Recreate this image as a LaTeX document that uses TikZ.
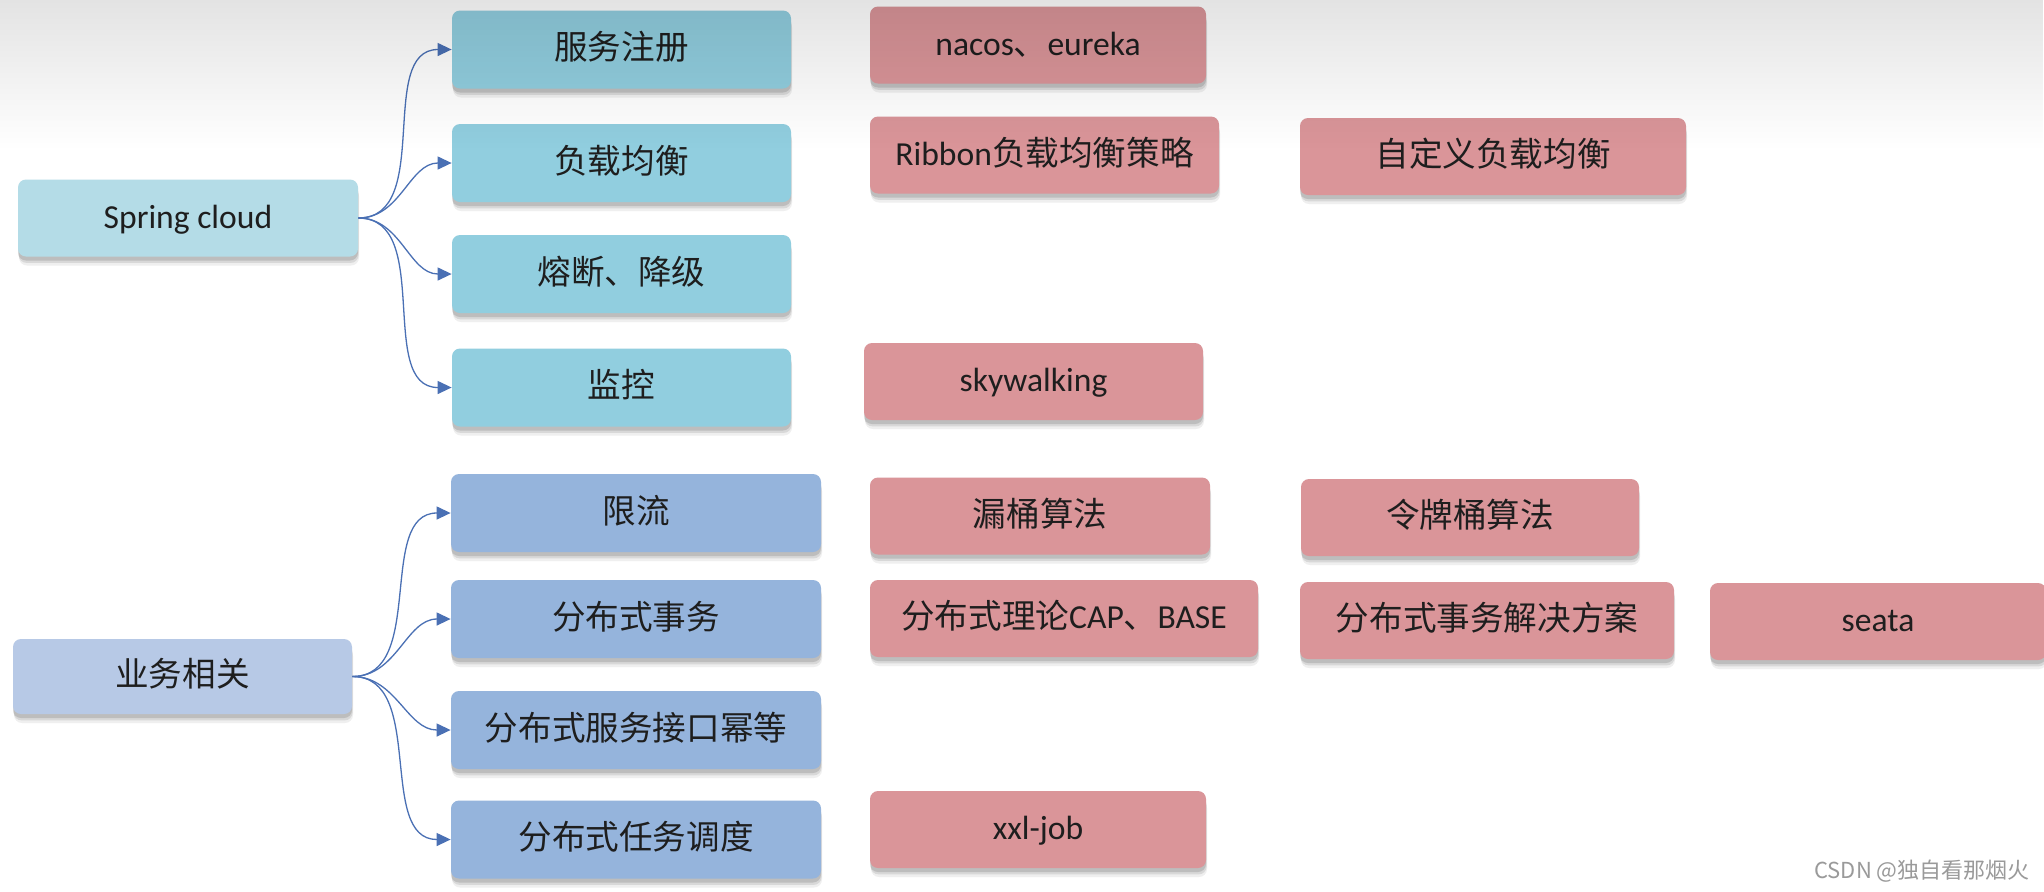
\documentclass[tikz,border=0pt]{standalone}
\usepackage{fontspec}
\setmainfont{Carlito}
\newfontfamily\cjk{Noto Sans CJK SC}
\usetikzlibrary{arrows.meta,shadows,fadings}
\definecolor{txt}{HTML}{1E1E1E}
\definecolor{scfill}{HTML}{B4DCE7}
\definecolor{midfill}{HTML}{91CEDF}
\definecolor{ywfill}{HTML}{B7C9E6}
\definecolor{bizfill}{HTML}{95B4DC}
\definecolor{pinkfill}{HTML}{DA9599}
\definecolor{arr}{HTML}{4A70B4}
\definecolor{wm}{HTML}{9A9A9A}
\tikzfading[name=fadedown, top color=transparent!0, bottom color=transparent!100]
\begin{document}
\begin{tikzpicture}[x=0.5pt,y=-0.5pt,
  box/.style={rounded corners=4pt, draw=none, text=txt, inner sep=0pt,
    font=\fontsize{16.8}{20}\selectfont, text height=1.0em, text depth=0em,
    drop shadow={shadow xshift=0.5pt, shadow yshift=-4.5pt, opacity=0.08, fill=black!80},
    drop shadow={shadow xshift=0.3pt, shadow yshift=-3.2pt, opacity=0.12, fill=black!80},
    drop shadow={shadow xshift=0pt, shadow yshift=-2pt, opacity=0.16, fill=black!80}},
  scbox/.style={box, fill=scfill},
  midbox/.style={box, fill=midfill, minimum width=169.5pt, minimum height=39pt},
  ywbox/.style={box, fill=ywfill},
  bizbox/.style={box, fill=bizfill, minimum width=185pt, minimum height=39pt},
  pinkbox/.style={box, fill=pinkfill, minimum height=38.5pt},
  link/.style={draw=arr, line width=0.65pt, -{Triangle[length=7pt,width=6.5pt]}, out=0, in=180}
]
\useasboundingbox (0,0) rectangle (2044,891);
\fill[white] (0,0) rectangle (2044,891);

% left roots
\node[scbox, minimum width=170pt, minimum height=38.5pt] (sc) at (188,218) {Spring cloud};
\node[ywbox, minimum width=169.5pt, minimum height=37.5pt] (yw) at (182.5,676.5) {\cjk 业务相关};

% middle column, top group
\node[midbox] (m1) at (621.5,49.5) {\cjk 服务注册};
\node[midbox] (m2) at (621.5,163) {\cjk 负载均衡};
\node[midbox] (m3) at (621.5,274) {\cjk 熔断、降级};
\node[midbox] (m4) at (621.5,387.5) {\cjk 监控};

% middle column, bottom group
\node[bizbox] (b1) at (636,513) {\cjk 限流};
\node[bizbox] (b2) at (636,619) {\cjk 分布式事务};
\node[bizbox] (b3) at (636,730) {\cjk 分布式服务接口幂等};
\node[bizbox] (b4) at (636,839.5) {\cjk 分布式任务调度};

% right column
\node[pinkbox, minimum width=168pt] (p1) at (1038,45) {nacos{\cjk 、}eureka};
\node[pinkbox, minimum width=174.5pt] (p2) at (1044.5,155) {Ribbon{\cjk 负载均衡策略}};
\node[pinkbox, minimum width=193pt] (p3) at (1493,156.5) {\cjk 自定义负载均衡};
\node[pinkbox, minimum width=169.5pt] (p4) at (1033.5,381.5) {skywalking};
\node[pinkbox, minimum width=170pt] (p5) at (1040,516) {\cjk 漏桶算法};
\node[pinkbox, minimum width=169pt] (p6) at (1470,517.5) {\cjk 令牌桶算法};
\node[pinkbox, minimum width=194pt] (p7) at (1064,618.5) {{\cjk 分布式理论}CAP{\cjk 、}BASE};
\node[pinkbox, minimum width=187pt] (p8) at (1487,620.5) {\cjk 分布式事务解决方案};
\node[pinkbox, minimum width=168pt] (p9) at (1878,621.5) {seata};
\node[pinkbox, minimum width=168pt] (p10) at (1038,829.5) {xxl-job};

% connectors
\foreach \t in {m1,m2,m3,m4} \draw[link] (sc.east) to (\t.west);
\foreach \t in {b1,b2,b3,b4} \draw[link] (yw.east) to (\t.west);

% watermark
\node[anchor=east, text=wm, inner sep=0pt, font=\cjk\fontsize{11}{12}\selectfont] (wmk) at (2030,871) {CSDN @独自看那烟火};

% top grey band
\fill[black, path fading=fadedown, fill opacity=0.11] (0,0) rectangle (2044,150);
\end{tikzpicture}
\end{document}
